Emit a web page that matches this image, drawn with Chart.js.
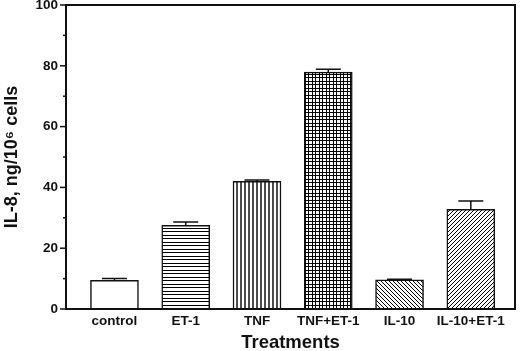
<!DOCTYPE html>
<html>
<head>
<meta charset="utf-8">
<script src="https://cdn.jsdelivr.net/npm/chart.js@4.4.1/dist/chart.umd.min.js"></script>
<style>
  html, body { margin: 0; padding: 0; background: #fff; }
  #wrap { width: 520px; height: 351px; }
</style>
</head>
<body>
<div id="wrap"><canvas id="il8Chart" width="520" height="351"></canvas></div>
<script>
// data
const treatments = ['control', 'ET-1', 'TNF', 'TNF+ET-1', 'IL-10', 'IL-10+ET-1'];
const il8Values = [9.4, 27.5, 42.0, 77.9, 9.6, 32.8];
const il8Errors = [0.6, 1.1, 0.4, 1.0, 0.2, 2.7];
const yTickValues = [0, 10, 20, 30, 40, 50, 60, 70, 80, 90, 100];

const ink = '#111';

// fill patterns for the bars
function makePattern(kind) {
    const c = document.createElement('canvas');
    const ctx = c.getContext('2d');
    ctx.strokeStyle = '#222';
    ctx.lineWidth = 1;
    if (kind === 'none') {
        c.width = 2; c.height = 2;
        ctx.fillStyle = '#fff'; ctx.fillRect(0, 0, 2, 2);
    } else if (kind === 'horiz') {
        c.width = 4; c.height = 7;
        ctx.fillStyle = '#fff'; ctx.fillRect(0, 0, 4, 7);
        ctx.beginPath();
        ctx.moveTo(0, 0.5); ctx.lineTo(4, 0.5);
        ctx.moveTo(0, 4.5); ctx.lineTo(4, 4.5);
        ctx.stroke();
    } else if (kind === 'vert') {
        c.width = 4; c.height = 4;
        ctx.fillStyle = '#fff'; ctx.fillRect(0, 0, 4, 4);
        ctx.lineWidth = 1.4;
        ctx.beginPath();
        ctx.moveTo(1, 0); ctx.lineTo(1, 4);
        ctx.stroke();
    } else if (kind === 'grid') {
        c.width = 7; c.height = 7;
        ctx.fillStyle = '#fff'; ctx.fillRect(0, 0, 7, 7);
        ctx.beginPath();
        ctx.moveTo(0, 0.5); ctx.lineTo(7, 0.5);
        ctx.moveTo(0, 4.5); ctx.lineTo(7, 4.5);
        ctx.moveTo(0.5, 0); ctx.lineTo(0.5, 7);
        ctx.moveTo(4.5, 0); ctx.lineTo(4.5, 7);
        ctx.stroke();
    } else if (kind === 'back' || kind === 'fwd') {
        const s = 4;
        c.width = s; c.height = s;
        ctx.fillStyle = '#fff'; ctx.fillRect(0, 0, s, s);
        ctx.beginPath();
        if (kind === 'back') {
            ctx.moveTo(-1, -1); ctx.lineTo(s + 1, s + 1);
            ctx.moveTo(-1, s - 1); ctx.lineTo(1, s + 1);
            ctx.moveTo(s - 1, -1); ctx.lineTo(s + 1, 1);
        } else {
            ctx.moveTo(-1, s + 1); ctx.lineTo(s + 1, -1);
            ctx.moveTo(-1, 1); ctx.lineTo(1, -1);
            ctx.moveTo(s - 1, s + 1); ctx.lineTo(s + 1, s - 1);
        }
        ctx.stroke();
    }
    return ctx.createPattern(c, 'repeat');
}

const fills = ['none', 'horiz', 'vert', 'grid', 'back', 'fwd'].map(makePattern);

// frame, y tick marks and error bars
const extrasPlugin = {
    id: 'extras',
    afterDatasetsDraw(chart) {
        const ctx = chart.ctx;
        const area = chart.chartArea;
        const y = chart.scales.y;
        const bars = chart.getDatasetMeta(0).data;

        ctx.save();
        ctx.strokeStyle = ink;
        ctx.lineWidth = 1.5;
        bars.forEach((bar, i) => {
            const top = y.getPixelForValue(il8Values[i] + il8Errors[i]);
            ctx.beginPath();
            ctx.moveTo(bar.x, bar.y);
            ctx.lineTo(bar.x, top);
            ctx.moveTo(bar.x - 12.5, top);
            ctx.lineTo(bar.x + 12.5, top);
            ctx.stroke();
        });

        // box around plot
        ctx.lineWidth = 2;
        ctx.strokeRect(area.left, area.top, area.right - area.left, area.bottom - area.top);

        // major and minor ticks on the y axis
        ctx.lineWidth = 1.5;
        yTickValues.forEach(v => {
            const py = y.getPixelForValue(v);
            const len = v % 20 === 0 ? 6 : 3;
            ctx.beginPath();
            ctx.moveTo(area.left - len, py);
            ctx.lineTo(area.left, py);
            ctx.stroke();
        });
        ctx.restore();
    }
};

new Chart(document.getElementById('il8Chart'), {
    type: 'bar',
    data: {
        datasets: [{
            data: il8Values.map((v, i) => ({ x: i, y: v })),
            backgroundColor: fills,
            borderColor: ink,
            borderWidth: 1.5,
            borderSkipped: 'bottom',
            barThickness: 48
        }]
    },
    options: {
        responsive: false,
        animation: false,
        layout: { padding: { top: 5, right: 5, left: 0, bottom: 0 } },
        plugins: {
            legend: { display: false },
            tooltip: { enabled: false }
        },
        scales: {
            x: {
                type: 'linear',
                offset: false,
                min: -0.68,
                max: 5.62,
                grid: { display: false, drawTicks: false },
                border: { display: false },
                afterBuildTicks: (scale) => {
                    scale.ticks = treatments.map((_, i) => ({ value: i }));
                },
                afterFit: (scale) => {
                    scale.height = 42;
                    scale.paddingLeft = 0;
                    scale.paddingRight = 0;
                },
                ticks: {
                    autoSkip: false,
                    maxRotation: 0,
                    padding: 4,
                    color: ink,
                    font: { family: 'Liberation Sans', size: 13.5, weight: 'bold' },
                    callback: (v) => treatments[v] ?? ''
                },
                title: {
                    display: true,
                    text: 'Treatments',
                    color: ink,
                    font: { family: 'Liberation Sans', size: 18.5, weight: 'bold', lineHeight: 1 },
                    padding: { top: 0, bottom: -1 }
                }
            },
            y: {
                min: 0,
                max: 100,
                grid: { display: false, drawTicks: false },
                border: { display: false },
                afterFit: (scale) => {
                    scale.width = 66;
                    scale.paddingTop = 0;
                    scale.paddingBottom = 0;
                },
                ticks: {
                    stepSize: 20,
                    padding: 8,
                    color: ink,
                    font: { family: 'Liberation Sans', size: 13.5, weight: 'bold' }
                },
                title: {
                    display: true,
                    text: 'IL-8, ng/10\u2076 cells',
                    color: ink,
                    font: { family: 'Liberation Sans', size: 18, weight: 'bold', lineHeight: 1 },
                    padding: { top: 3, bottom: 0 }
                }
            }
        }
    },
    plugins: [extrasPlugin]
});
</script>
</body>
</html>
